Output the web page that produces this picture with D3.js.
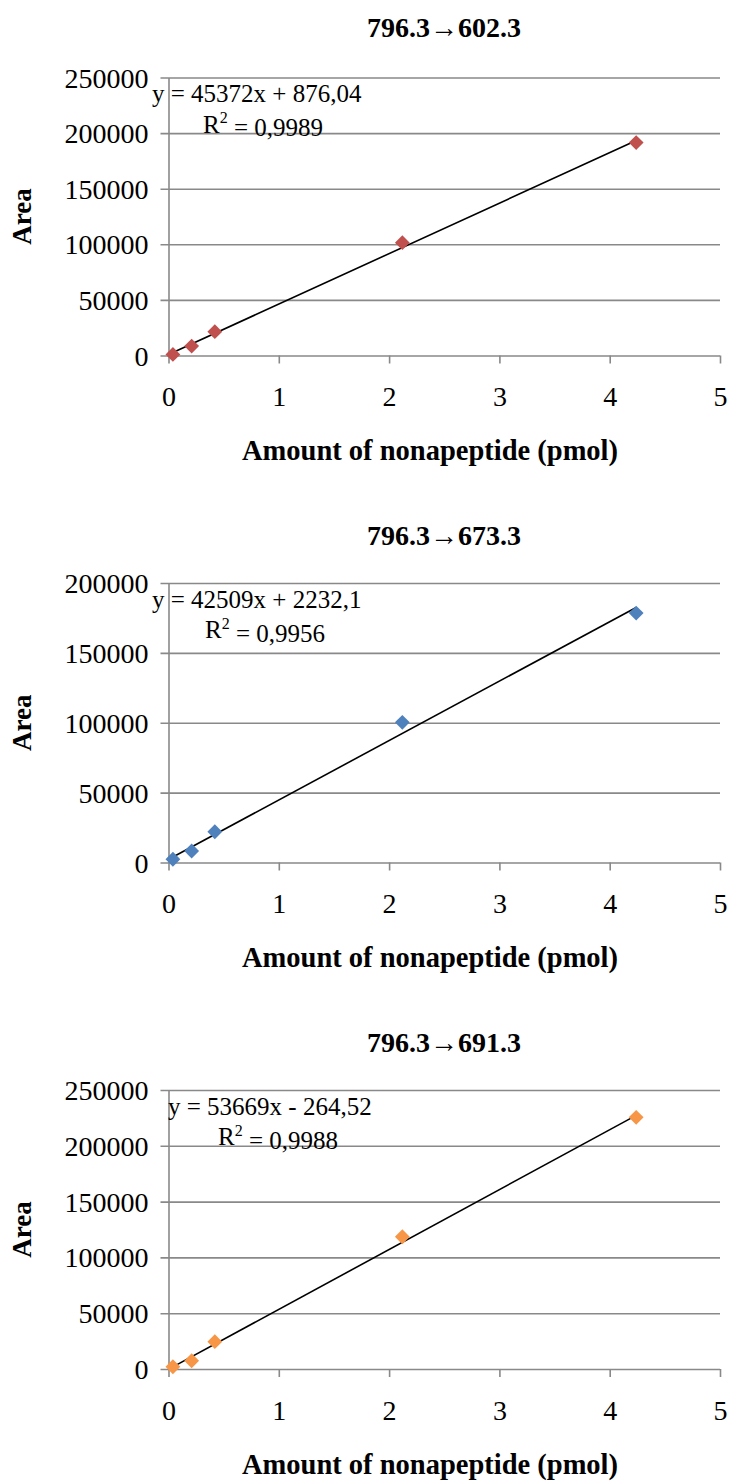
<!DOCTYPE html>
<html>
<head>
<meta charset="utf-8">
<script src="https://cdn.jsdelivr.net/npm/d3@7"></script>
<style>
  html, body { margin: 0; padding: 0; background: #ffffff; }
</style>
</head>
<body>
<svg id="chart" width="729" height="1481"></svg>
<script>
// ---- data ----
const amounts = [0.04, 0.21, 0.42, 2.12, 4.24];
const titles = ["796.3\u2192602.3", "796.3\u2192673.3", "796.3\u2192691.3"];
const area602 = [1000, 8500, 21400, 101500, 191500];
const area673 = [2300, 8200, 22000, 100300, 178500];
const area691 = [2000, 7400, 24500, 118500, 225500];
const slopes = [45372, 42509, 53669];
const intercepts = [876.04, 2232.1, -264.52];
const equations = ["y = 45372x + 876,04", "y = 42509x + 2232,1", "y = 53669x - 264,52"];
const r2Labels = ["0,9989", "0,9956", "0,9988"];
const xTicks = [0, 1, 2, 3, 4, 5];
const yTicks250 = [0, 50000, 100000, 150000, 200000, 250000];
const yTicks200 = [0, 50000, 100000, 150000, 200000];
const colors = ["#C0504D", "#4F81BD", "#F79646"];
const xTitle = "Amount of nonapeptide (pmol)";
const yTitle = "Area";

const panels = [
  { values: area602, ticks: yTicks250, yMax: 250000, top: 77.5, bottom: 355.5, titleY: 27, eqX: 152, r2X: 203 },
  { values: area673, ticks: yTicks200, yMax: 200000, top: 583, bottom: 862.5, titleY: 535, eqX: 152, r2X: 205 },
  { values: area691, ticks: yTicks250, yMax: 250000, top: 1090, bottom: 1369, titleY: 1042, eqX: 168, r2X: 218 }
];

const FONT = '"Liberation Serif", "DejaVu Serif", serif';
const svg = d3.select("#chart");
const left = 168.5, right = 720;
const gridColor = "#898989";

panels.forEach((p, i) => {
  const g = svg.append("g").style("font-family", FONT);
  const x = d3.scaleLinear().domain([0, 5]).range([left, right]);
  const y = d3.scaleLinear().domain([0, p.yMax]).range([p.bottom, p.top]);

  // title
  g.append("text")
    .attr("x", 444).attr("y", p.titleY)
    .attr("text-anchor", "middle").attr("dominant-baseline", "central")
    .style("font-family", FONT)
    .style("font-weight", "bold").style("font-size", "28px")
    .text(titles[i]);

  // y axis with gridlines
  const yAxis = g.append("g")
    .attr("transform", `translate(${left},0)`)
    .call(d3.axisLeft(y).tickValues(p.ticks).tickSize(-(right - left)).tickSizeOuter(0).tickPadding(20).tickFormat(d3.format("d")));
  yAxis.select(".domain").attr("stroke", gridColor).attr("stroke-width", 1.6);
  yAxis.selectAll(".tick line").attr("stroke", gridColor).attr("stroke-width", 1.6).attr("x1", -8);
  yAxis.selectAll(".tick text")
    .style("font-family", FONT).style("font-size", "28px").attr("fill", "#000").attr("dy", "0.34em");

  // x axis ticks
  const xAxis = g.append("g")
    .attr("transform", `translate(0,${p.bottom})`)
    .call(d3.axisBottom(x).tickValues(xTicks).tickSize(8).tickPadding(23).tickFormat(d3.format("d")));
  xAxis.select(".domain").remove();
  xAxis.selectAll(".tick line").attr("stroke", gridColor).attr("stroke-width", 1.6);
  xAxis.selectAll(".tick text")
    .style("font-family", FONT).style("font-size", "28px").attr("fill", "#000");

  // axis titles
  g.append("text")
    .attr("x", 430).attr("y", p.bottom + 95)
    .attr("text-anchor", "middle").attr("dominant-baseline", "central")
    .style("font-family", FONT)
    .style("font-weight", "bold").style("font-size", "28.5px")
    .text(xTitle);
  g.append("text")
    .attr("transform", `translate(22,${(p.top + p.bottom) / 2}) rotate(-90)`)
    .attr("text-anchor", "middle").attr("dominant-baseline", "central")
    .style("font-family", FONT)
    .style("font-weight", "bold").style("font-size", "27px")
    .text(yTitle);

  // trendline over data range
  const xr = d3.extent(amounts);
  g.append("line")
    .attr("x1", x(xr[0])).attr("y1", y(slopes[i] * xr[0] + intercepts[i]))
    .attr("x2", x(xr[1])).attr("y2", y(slopes[i] * xr[1] + intercepts[i]))
    .attr("stroke", "#000").attr("stroke-width", 1.6);

  // markers
  const sym = d3.symbol().type(d3.symbolSquare).size(110);
  g.selectAll("path.pt").data(amounts).join("path")
    .attr("class", "pt")
    .attr("d", sym)
    .attr("transform", (d, j) => `translate(${x(d)},${y(p.values[j])}) rotate(45)`)
    .attr("fill", colors[i]);

  // equation labels
  g.append("text")
    .attr("x", p.eqX).attr("y", p.top + 16)
    .attr("dominant-baseline", "central")
    .style("font-family", FONT)
    .style("font-size", "25px")
    .text(equations[i]);
  const r2 = g.append("text")
    .attr("x", p.r2X).attr("y", p.top + 46)
    .attr("dominant-baseline", "central")
    .style("font-family", FONT)
    .style("font-size", "25px");
  r2.append("tspan").text("R");
  r2.append("tspan").attr("dy", "-0.4em").style("font-size", "16px").text("2");
  r2.append("tspan").attr("dy", "0.4em").text(" = " + r2Labels[i]);
});
</script>
</body>
</html>
